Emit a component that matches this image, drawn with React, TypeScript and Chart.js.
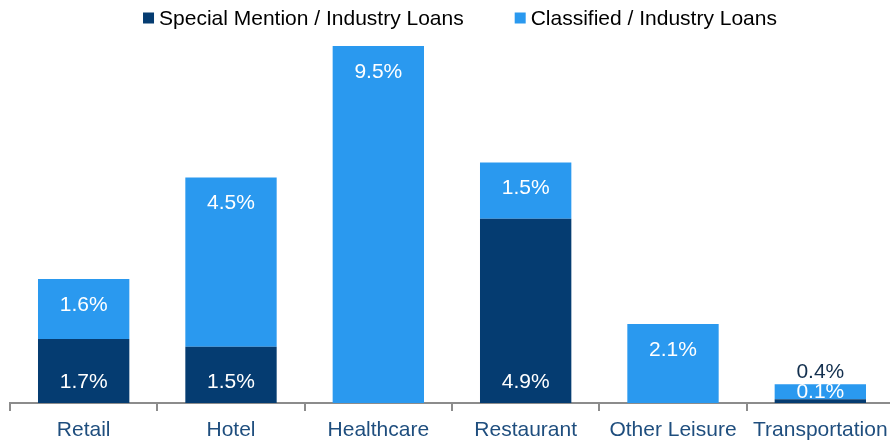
import React, { useEffect, useRef } from "react";
import { Chart, registerables } from "chart.js";

Chart.register(...registerables);

const categories = ["Retail", "Hotel", "Healthcare", "Restaurant", "Other Leisure", "Transportation"];
const specialMention = [1.7, 1.5, 0, 4.9, 0, 0.1];
const classified = [1.6, 4.5, 9.5, 1.5, 2.1, 0.4];
const seriesNames = ["Special Mention / Industry Loans", "Classified / Industry Loans"];

const DARK = "#053C71";
const LIGHT = "#2A99EF";
const AXIS_TEXT = "#1F4E7E";
const FONT = "'Liberation Sans', Arial, sans-serif";

const labelPlugin = {
  id: "barLabels",
  afterDatasetsDraw(chart: any) {
    const ctx = chart.ctx;
    const m0 = chart.getDatasetMeta(0);
    const m1 = chart.getDatasetMeta(1);
    ctx.save();
    ctx.font = `21px ${FONT}`;
    ctx.textAlign = "center";
    ctx.textBaseline = "middle";
    categories.forEach((_, i) => {
      const b0 = m0.data[i];
      const b1 = m1.data[i];
      const v0 = specialMention[i];
      const v1 = classified[i];
      const h0 = Math.abs(b0.base - b0.y);
      const h1 = Math.abs(b1.base - b1.y);
      const stackTop = b1.y;
      const stackBottom = b0.base;
      if (v1 > 0) {
        if (h1 < 20) {
          ctx.fillStyle = "#13304F";
          ctx.fillText(v1.toFixed(1) + "%", b1.x, stackTop - 12);
        } else {
          ctx.fillStyle = "#ffffff";
          ctx.fillText(v1.toFixed(1) + "%", b1.x, b1.y + 26);
        }
      }
      if (v0 > 0) {
        ctx.fillStyle = "#ffffff";
        if (h0 < 20) {
          ctx.fillText(v0.toFixed(1) + "%", b0.x, (stackTop + stackBottom) / 2 - 1);
        } else {
          ctx.fillText(v0.toFixed(1) + "%", b0.x, b0.base - 21);
        }
      }
    });
    ctx.restore();
  },
};

const legendPlugin = {
  id: "customLegend",
  afterDraw(chart: any) {
    const ctx = chart.ctx;
    ctx.save();
    ctx.font = `21px ${FONT}`;
    ctx.textBaseline = "middle";
    ctx.textAlign = "left";
    const box = 11;
    const gapText = 5;
    const gapItems = 51;
    const colors = [DARK, LIGHT];
    const widths = seriesNames.map((s) => ctx.measureText(s).width);
    const total = widths.reduce((a, w) => a + box + gapText + w, 0) + gapItems;
    let x = 460 - total / 2;
    const cy = 18;
    seriesNames.forEach((s, i) => {
      ctx.fillStyle = colors[i];
      ctx.fillRect(x, cy - box / 2, box, box);
      ctx.fillStyle = "#000000";
      ctx.fillText(s, x + box + gapText, cy + 1);
      x += box + gapText + widths[i] + gapItems;
    });
    ctx.restore();
  },
};

export default function App() {
  const ref = useRef<HTMLCanvasElement>(null);
  useEffect(() => {
    document.body.style.margin = "0";
    const chart = new Chart(ref.current!, {
      type: "bar",
      data: {
        labels: categories,
        datasets: [
          {
            label: seriesNames[0],
            data: specialMention,
            backgroundColor: DARK,
            borderWidth: 0,
            categoryPercentage: 1,
            barPercentage: 0.62,
          },
          {
            label: seriesNames[1],
            data: classified,
            backgroundColor: LIGHT,
            borderWidth: 0,
            categoryPercentage: 1,
            barPercentage: 0.62,
          },
        ],
      },
      options: {
        animation: false,
        responsive: false,
        maintainAspectRatio: false,
        layout: { padding: { left: 10, right: 0, top: 46, bottom: -9 } },
        plugins: {
          legend: { display: false },
          tooltip: { enabled: false },
        },
        scales: {
          x: {
            stacked: true,
            afterFit: (scale: any) => {
              scale.paddingLeft = 0;
              scale.paddingRight = 0;
            },
            grid: {
              offset: true,
              drawOnChartArea: false,
              drawTicks: true,
              tickLength: 8,
              color: "#8c8c8c",
              lineWidth: 2,
            },
            border: { display: true, color: "#8c8c8c", width: 2 },
            ticks: {
              color: AXIS_TEXT,
              font: { family: FONT, size: 21, lineHeight: 1 },
              padding: 9,
              maxRotation: 0,
              autoSkip: false,
            },
          },
          y: {
            stacked: true,
            display: false,
            min: 0,
            max: 9.5,
          },
        },
      },
      plugins: [labelPlugin, legendPlugin],
    });
    return () => chart.destroy();
  }, []);
  return (
    <div style={{ width: 890, height: 441, overflow: "hidden" }}>
      <canvas ref={ref} width={894} height={441} style={{ width: 894, height: 441, display: "block" }} />
    </div>
  );
}
